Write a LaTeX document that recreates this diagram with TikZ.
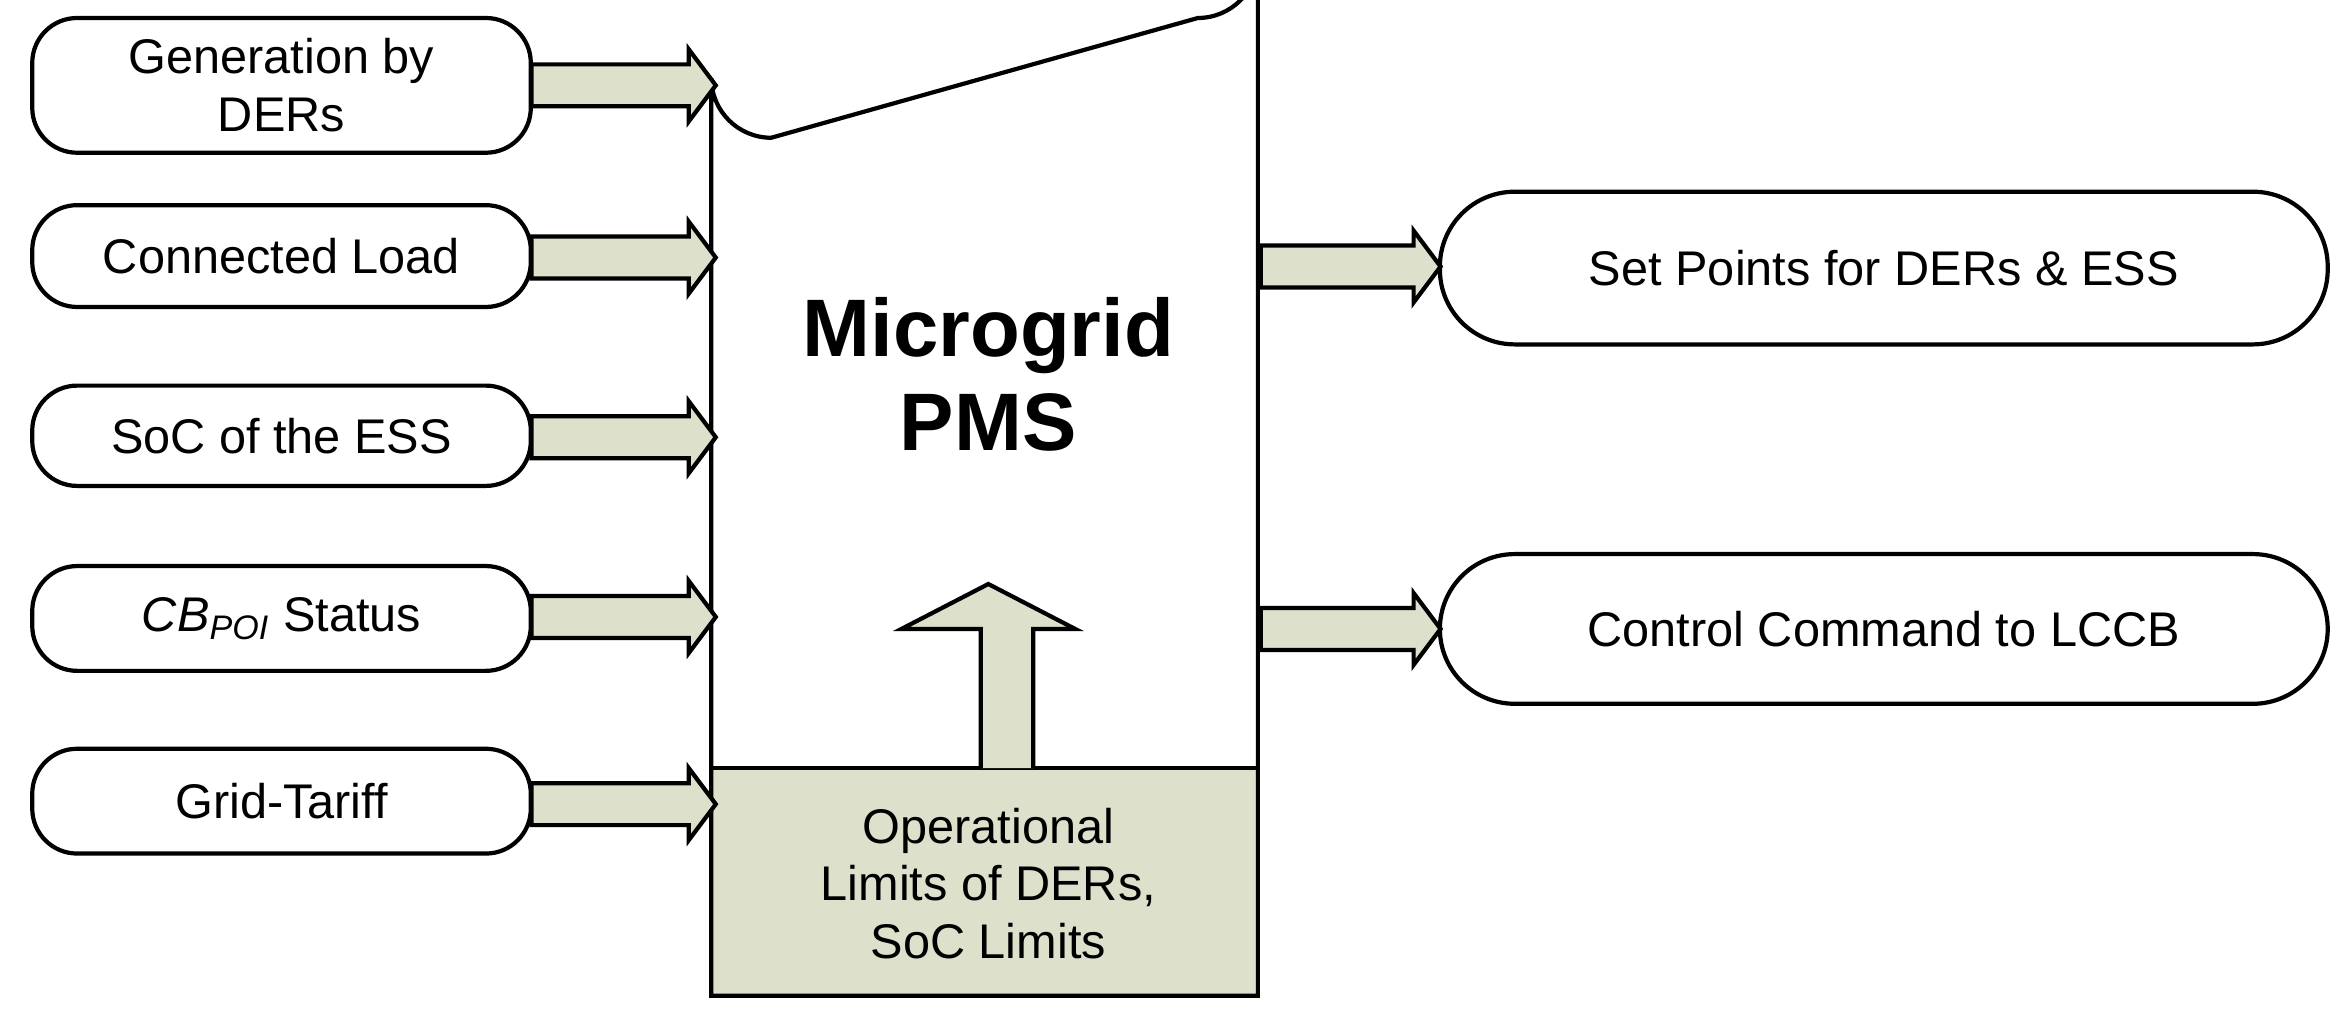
\documentclass[tikz,border=0pt]{standalone}
\usepackage{fontspec}
\setmainfont{Liberation Sans}
\begin{document}
\begin{tikzpicture}[x=0.02cm,y=-0.02cm,
  box/.style={draw,line width=1.6pt,rounded corners=28\pgflinewidth,font=\fontsize{18.5}{22}\selectfont,align=center,inner sep=0pt},
  fat/.style={draw,line width=1.6pt,fill=beige,line join=miter}]
\definecolor{beige}{RGB}{221,224,203}
\useasboundingbox (0,0) rectangle (1568,683);
\newcommand\fatR[3]{\draw[fat] (#1,#3-14)--(#2-18,#3-14)--(#2-18,#3-24)--(#2,#3)--(#2-18,#3+24)--(#2-18,#3+14)--(#1,#3+14)--cycle;}
% main box
\fill[beige] (475,513) rectangle (840,665);
\draw[line width=1.6pt] (475,665) -- (475,52) arc[start angle=180,end angle=90,radius=40] -- (800,12) arc[start angle=90,end angle=0,radius=40] -- (840,665) -- cycle;
\draw[line width=1.6pt] (475,513) -- (840,513);
\node[font=\fontsize{31}{36}\selectfont\bfseries,align=center] (pms) at (660,250) {Microgrid\\PMS};
\node[font=\fontsize{18.5}{22}\selectfont,align=center] (lim) at (660,590) {Operational\\Limits of DERs,\\SoC Limits};
% up arrow
\draw[fat] (655,513)--(655,420)--(602,420)--(660,390)--(718,420)--(690,420)--(690,513);
% left boxes
\node[box,minimum width=333\pgflinewidth*0+6.66cm,minimum height=1.8cm,rounded corners=0.6cm] (g) at (188,57) {Generation by\\DERs};
\node[box,minimum width=6.66cm,minimum height=1.36cm,rounded corners=0.6cm] (c) at (188,171) {Connected Load};
\node[box,minimum width=6.66cm,minimum height=1.34cm,rounded corners=0.6cm] (s) at (188,291) {SoC of the ESS};
\node[box,minimum width=6.66cm,minimum height=1.4cm,rounded corners=0.6cm] (cb) at (188,413) {\textit{CB}\textsubscript{\textit{POI}} Status};
\node[box,minimum width=6.66cm,minimum height=1.4cm,rounded corners=0.6cm] (gt) at (188,535) {Grid-Tariff};
\fatR{355}{478}{57}
\fatR{355}{478}{172}
\fatR{355}{478}{292}
\fatR{355}{478}{412}
\fatR{355}{478}{537}
% right
\node[box,minimum width=11.86cm,minimum height=2.04cm,rounded corners=1cm] (sp) at (1258,179) {Set Points for DERs \& ESS};
\node[box,minimum width=11.86cm,minimum height=2.0cm,rounded corners=1cm] (cc) at (1258,420) {Control Command to LCCB};
\fatR{842}{962}{178}
\fatR{842}{962}{420}
\end{tikzpicture}
\end{document}
